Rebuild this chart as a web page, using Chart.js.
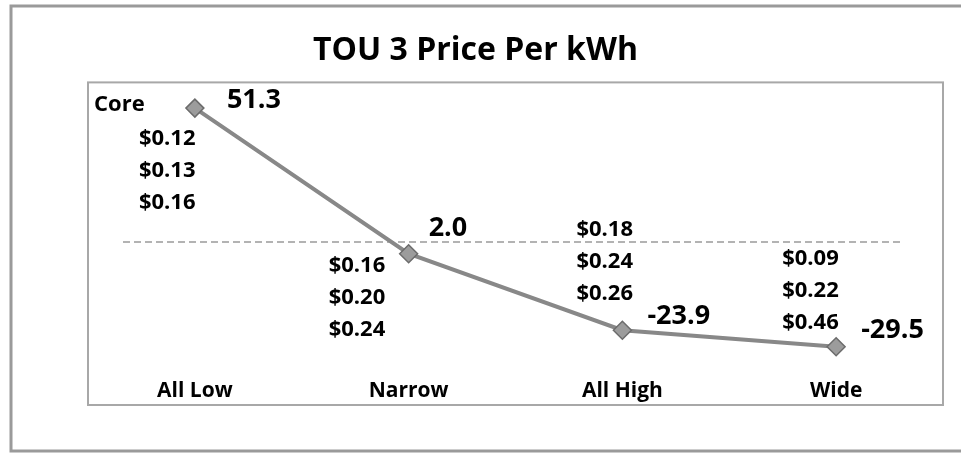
<!DOCTYPE html>
<html lang="en">
<head>
    <meta charset="UTF-8">
    <title>TOU 3 Price Per kWh</title>
    <script src="https://cdn.jsdelivr.net/npm/chart.js"></script>
    <style>
        html, body { margin: 0; padding: 0; background: #fff; }
        canvas { display: block; }
    </style>
</head>
<body>
    <canvas id="touChart" width="961" height="453"></canvas>

    <script>
        // chart values
        const categories = ["All Low", "Narrow", "All High", "Wide"];
        const priceChange = [51.3, 2.0, -23.9, -29.5];
        const priceLabels = ["51.3", "2.0", "-23.9", "-29.5"];
        const tierHeader = "Core";
        const tierPrices = [
            ["$0.12", "$0.13", "$0.16"],
            ["$0.16", "$0.20", "$0.24"],
            ["$0.18", "$0.24", "$0.26"],
            ["$0.09", "$0.22", "$0.46"]
        ];
        const referenceValue = 6;
        const yMin = -40;
        const yMax = 60;

        const FONT = "'Open Sans', sans-serif";
        Chart.defaults.font.family = FONT;
        Chart.defaults.color = "#000";

        // frame, dashed reference line, value labels and price tiers
        const decorPlugin = {
            id: 'decor',
            beforeDraw(chart) {
                const c = chart.ctx;
                c.save();
                c.fillStyle = '#fff';
                c.fillRect(0, 0, chart.width, chart.height);
                c.strokeStyle = '#9a9a9a';
                c.lineWidth = 3;
                c.strokeRect(11, 6, chart.width, chart.height - 8);
                c.restore();
            },
            beforeDatasetsDraw(chart) {
                const c = chart.ctx;
                const area = chart.chartArea;
                const bottom = chart.scales.x.bottom;
                c.save();
                c.strokeStyle = '#a8a8a8';
                c.lineWidth = 2;
                c.strokeRect(area.left, area.top, area.right - area.left, bottom - area.top);

                const y = chart.scales.y.getPixelForValue(referenceValue);
                c.strokeStyle = '#9a9a9a';
                c.lineWidth = 1.5;
                c.setLineDash([7, 4]);
                c.beginPath();
                c.moveTo(area.left + 35, y);
                c.lineTo(area.right - 40, y);
                c.stroke();
                c.restore();
            },
            afterDatasetsDraw(chart) {
                const c = chart.ctx;
                const area = chart.chartArea;
                const x = chart.scales.x;
                const pts = chart.getDatasetMeta(0).data;
                c.save();
                c.fillStyle = '#000';
                c.textBaseline = 'alphabetic';
                c.textAlign = 'left';

                // value labels next to each marker (offsets to the digit centre)
                const labelShift = [[32, -10], [20, -27], [25, -16], [25, -18]];
                c.font = "bold 27px " + FONT;
                pts.forEach((p, i) => {
                    c.fillText(priceLabels[i], p.x + labelShift[i][0], p.y + labelShift[i][1] + 9.6);
                });

                // price tiers
                c.font = "bold 22px " + FONT;
                c.fillText(tierHeader, area.left + 6, area.top + 21 + 7.8);
                const tierPlace = [[-56, 55], [-80, 182], [-46, 146], [-54, 175]];
                tierPrices.forEach((list, i) => {
                    const cx = x.getPixelForValue(i);
                    list.forEach((txt, k) => {
                        c.fillText(txt, cx + tierPlace[i][0], area.top + tierPlace[i][1] + k * 31.7 + 7.8);
                    });
                });
                c.restore();
            }
        };

        const ctx = document.getElementById('touChart').getContext('2d');

        const touChart = new Chart(ctx, {
            type: 'line',
            data: {
                labels: categories,
                datasets: [{
                    label: "TOU 3",
                    data: priceChange,
                    borderColor: "#888888",
                    borderWidth: 4,
                    pointStyle: 'rectRot',
                    pointRadius: 9,
                    pointBackgroundColor: "#9c9c9c",
                    pointBorderColor: "#6c6c6c",
                    pointBorderWidth: 1.5,
                    tension: 0
                }]
            },
            options: {
                responsive: false,
                animation: false,
                layout: { padding: { left: 8, right: 18, top: 0, bottom: 48 } },
                plugins: {
                    legend: { display: false },
                    tooltip: { enabled: false },
                    title: {
                        display: true,
                        text: "TOU 3 Price Per kWh",
                        color: "#000",
                        font: { size: 32, weight: 'bold' },
                        padding: { top: 32, bottom: 12 }
                    }
                },
                scales: {
                    x: {
                        offset: true,
                        grid: { display: false, drawTicks: false },
                        border: { display: false },
                        ticks: {
                            color: "#000",
                            padding: 1,
                            font: { size: 21, weight: 'bold' }
                        }
                    },
                    y: {
                        min: yMin,
                        max: yMax,
                        grid: { display: false, drawTicks: false },
                        border: { display: false },
                        ticks: { display: false },
                        afterFit(axis) { axis.width = 80; }
                    }
                }
            },
            plugins: [decorPlugin]
        });
    </script>
</body>
</html>
